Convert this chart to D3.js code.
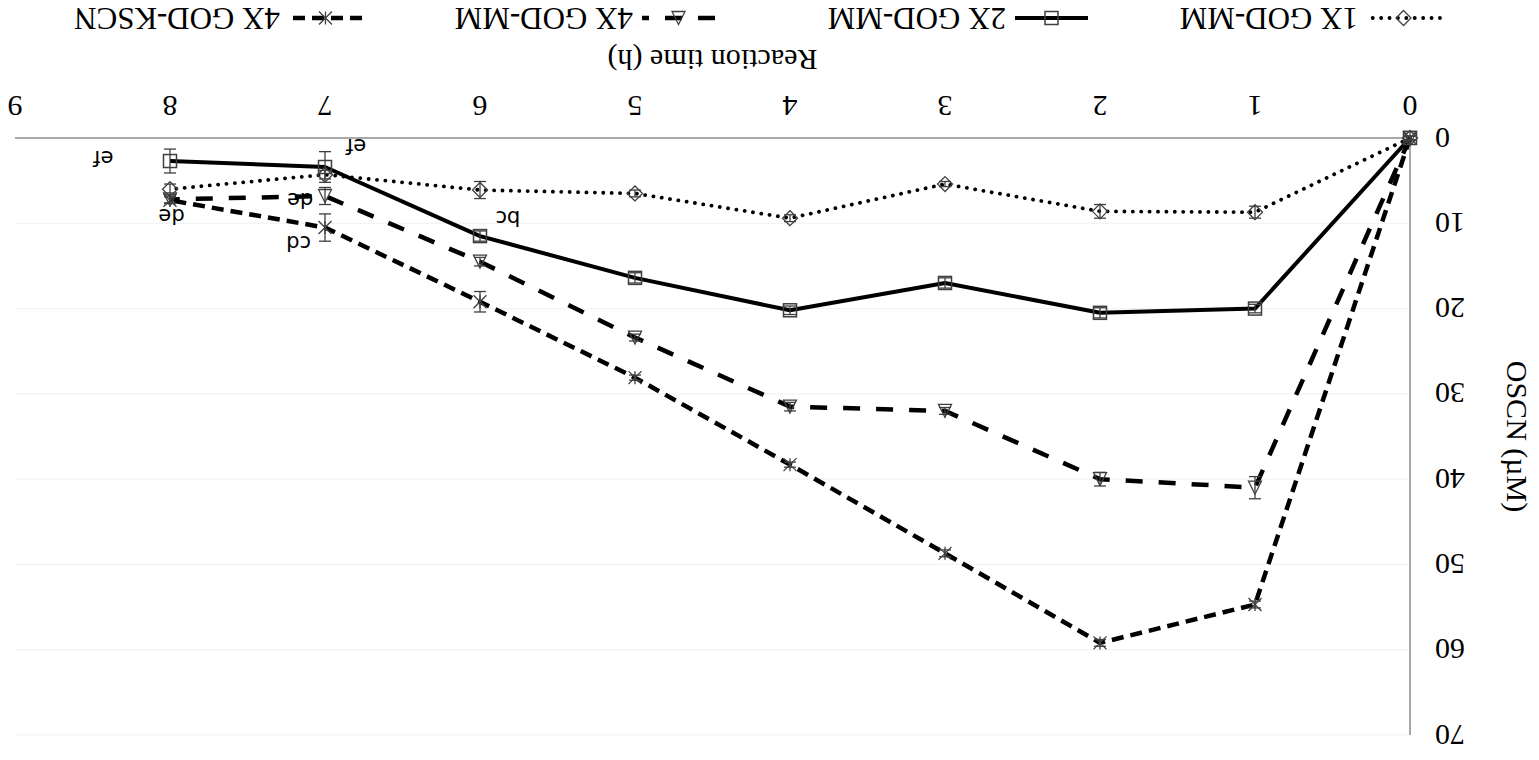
<!DOCTYPE html>
<html>
  <head>
    <style>
      body { margin: 0; background: #fff; }
      svg { display: block; }
      .tick-label { font: 30px "Liberation Serif", "Times New Roman", serif; fill: #000; }
      .axis-title { font: 30px "Liberation Serif", "Times New Roman", serif; fill: #000; }
      .legend-text { font: 31px "Liberation Serif", "Times New Roman", serif; fill: #000; }
      .letter { font: 21px "DejaVu Sans", sans-serif; fill: #000; }
    </style>
  </head>
  <body>
    <script src="https://d3js.org/d3.v7.min.js"></script>
    <svg></svg>
    <script>
      // Reaction time (h)
      const hours = [0, 1, 2, 3, 4, 5, 6, 7, 8];

      // OSCN (uM) per series
      const god1xMM = [0, 8.7, 8.6, 5.4, 9.4, 6.5, 6.1, 4.3, 6.0];
      const god2xMM = [0, 20.0, 20.5, 17.0, 20.2, 16.4, 11.5, 3.4, 2.7];
      const god4xMM = [0, 41.0, 40.0, 32.0, 31.5, 23.4, 14.5, 6.8, 7.2];
      const god4xKSCN = [0, 54.7, 59.2, 48.7, 38.3, 28.1, 19.2, 10.5, 7.3];

      // error bars (+/-)
      const err1xMM = [0.2, 0.7, 0.8, 0.3, 0.4, 0.4, 1.0, 0.5, 0.6];
      const err2xMM = [0.2, 0.5, 0.6, 0.6, 0.5, 0.6, 0.6, 1.8, 1.4];
      const err4xMM = [0.2, 1.3, 0.8, 0.4, 0.5, 0.4, 0.5, 1.0, 0.4];
      const err4xKSCN = [0.2, 0.4, 0.4, 0.4, 0.3, 0.3, 1.2, 1.6, 0.4];

      const seriesNames = ["1X GOD-MM", "2X GOD-MM", "4X GOD-MM", "4X GOD-KSCN"];
      const xTicks = [0, 1, 2, 3, 4, 5, 6, 7, 8, 9];
      const yTicks = [0, 10, 20, 30, 40, 50, 60, 70];

      // significance letters (at hour, value)
      const letterText = ["ef", "ef", "de", "de", "cd", "bc"];
      const letterHour = [8.43, 6.8, 7.99, 7.16, 7.17, 5.82];
      const letterValue = [2.4, 0.9, 9.1, 7.3, 12.3, 9.4];

      const W = 1539, H = 760;
      const margin = { top: 25, right: 15, bottom: 138, left: 129 };

      const svg = d3.select("svg").attr("width", W).attr("height", H);

      // the whole figure is drawn upside down
      const g = svg.append("g").attr("transform", `rotate(180, ${W / 2}, ${H / 2})`);

      const x = d3.scaleLinear().domain([0, 9]).range([margin.left, W - margin.right]);
      const y = d3.scaleLinear().domain([0, 70]).range([H - margin.bottom, margin.top]);

      // faint gridlines
      g.selectAll(".grid")
        .data(yTicks.slice(1))
        .enter()
        .append("line")
        .attr("x1", x(0))
        .attr("x2", x(9))
        .attr("y1", (d) => y(d))
        .attr("y2", (d) => y(d))
        .attr("stroke", "#f3f3f3")
        .attr("stroke-width", 1.2);

      // axes lines
      g.append("line")
        .attr("x1", x(0)).attr("x2", x(9))
        .attr("y1", y(0)).attr("y2", y(0))
        .attr("stroke", "#8c8c8c").attr("stroke-width", 1.5);
      g.append("line")
        .attr("x1", x(0)).attr("x2", x(0))
        .attr("y1", y(0)).attr("y2", y(70))
        .attr("stroke", "#8c8c8c").attr("stroke-width", 1.5);

      // tick labels
      g.selectAll(".xt")
        .data(xTicks)
        .enter()
        .append("text")
        .attr("class", "tick-label")
        .attr("x", (d) => x(d))
        .attr("y", y(0) + 32)
        .attr("text-anchor", "middle")
        .attr("dominant-baseline", "central")
        .text((d) => d);

      g.selectAll(".yt")
        .data(yTicks)
        .enter()
        .append("text")
        .attr("class", "tick-label")
        .attr("x", x(0) - 25)
        .attr("y", (d) => y(d))
        .attr("text-anchor", "end")
        .attr("dominant-baseline", "central")
        .text((d) => d);

      // axis titles
      g.append("text")
        .attr("class", "axis-title")
        .attr("x", (x(0) + x(9)) / 2)
        .attr("y", y(0) + 78)
        .attr("text-anchor", "middle")
        .attr("dominant-baseline", "central")
        .text("Reaction time (h)");

      g.append("text")
        .attr("class", "axis-title")
        .attr("transform", `translate(22, ${(y(0) + y(70)) / 2}) rotate(-90)`)
        .attr("text-anchor", "middle")
        .attr("dominant-baseline", "central")
        .text("OSCN (\u00b5M)");

      const series = [
        { name: seriesNames[0], values: god1xMM, err: err1xMM, dash: "0.1 8.3", cap: "round", width: 3.8, marker: "diamond" },
        { name: seriesNames[1], values: god2xMM, err: err2xMM, dash: null, cap: "butt", width: 4, marker: "square" },
        { name: seriesNames[2], values: god4xMM, err: err4xMM, dash: "17 16", cap: "butt", width: 4.5, marker: "triangle" },
        { name: seriesNames[3], values: god4xKSCN, err: err4xKSCN, dash: "12 7", cap: "butt", width: 4.5, marker: "star" },
      ];

      const markerColor = "#3f3f3f";

      function drawMarker(sel, type, cx, cy) {
        const s = 6.5;
        if (type === "diamond") {
          sel.append("path")
            .attr("d", `M${cx},${cy - s - 1}L${cx + s + 1},${cy}L${cx},${cy + s + 1}L${cx - s - 1},${cy}Z`)
            .attr("fill", "none").attr("stroke", markerColor).attr("stroke-width", 1.3);
        } else if (type === "square") {
          sel.append("rect")
            .attr("x", cx - s).attr("y", cy - s).attr("width", 2 * s).attr("height", 2 * s)
            .attr("fill", "none").attr("stroke", markerColor).attr("stroke-width", 1.5);
        } else if (type === "triangle") {
          // points up here, so it reads as an inverted triangle once rotated
          sel.append("path")
            .attr("d", `M${cx},${cy - s}L${cx + s},${cy + s}L${cx - s},${cy + s}Z`)
            .attr("fill", "none").attr("stroke", markerColor).attr("stroke-width", 1.3);
        } else {
          sel.append("path")
            .attr("d", `M${cx - s},${cy - s}L${cx + s},${cy + s}M${cx - s},${cy + s}L${cx + s},${cy - s}M${cx},${cy - s}L${cx},${cy + s}`)
            .attr("fill", "none").attr("stroke", markerColor).attr("stroke-width", 1.3);
        }
      }

      const line = d3.line()
        .x((d) => x(d[0]))
        .y((d) => y(d[1]));

      series.forEach((sr) => {
        const pts = hours.map((h, i) => [h, sr.values[i]]);
        g.append("path")
          .datum(pts)
          .attr("d", line)
          .attr("fill", "none")
          .attr("stroke", "#000")
          .attr("stroke-width", sr.width)
          .attr("stroke-dasharray", sr.dash)
          .attr("stroke-linecap", sr.cap)
          .attr("stroke-linejoin", "round");
      });

      // error bars + markers on top
      series.forEach((sr) => {
        const mg = g.append("g");
        hours.forEach((h, i) => {
          const cx = x(h), v = sr.values[i], e = sr.err[i];
          mg.append("line")
            .attr("x1", cx).attr("x2", cx)
            .attr("y1", y(v - e)).attr("y2", y(v + e))
            .attr("stroke", markerColor).attr("stroke-width", 1.3);
          [v - e, v + e].forEach((vv) => {
            mg.append("line")
              .attr("x1", cx - 6).attr("x2", cx + 6)
              .attr("y1", y(vv)).attr("y2", y(vv))
              .attr("stroke", markerColor).attr("stroke-width", 1.3);
          });
          drawMarker(mg, sr.marker, cx, y(v));
        });
      });

      // significance letters
      g.selectAll(".letter")
        .data(letterText)
        .enter()
        .append("text")
        .attr("class", "letter")
        .attr("x", (d, i) => x(letterHour[i]))
        .attr("y", (d, i) => y(letterValue[i]))
        .attr("text-anchor", "middle")
        .attr("dominant-baseline", "central")
        .text((d) => d);

      // legend
      const legendY = H - 18;
      const legendX = [99, 451, 824, 1177];
      series.forEach((sr, i) => {
        const lx = legendX[i];
        const lg = g.append("g");
        lg.append("line")
          .attr("x1", lx).attr("x2", lx + 73)
          .attr("y1", legendY).attr("y2", legendY)
          .attr("stroke", "#000")
          .attr("stroke-width", sr.width)
          .attr("stroke-dasharray", sr.dash)
          .attr("stroke-linecap", sr.cap);
        drawMarker(lg, sr.marker, lx + 36.5, legendY);
        lg.append("text")
          .attr("class", "legend-text")
          .attr("x", lx + 82)
          .attr("y", legendY)
          .attr("dominant-baseline", "central")
          .text(sr.name);
      });
    </script>
  </body>
</html>
